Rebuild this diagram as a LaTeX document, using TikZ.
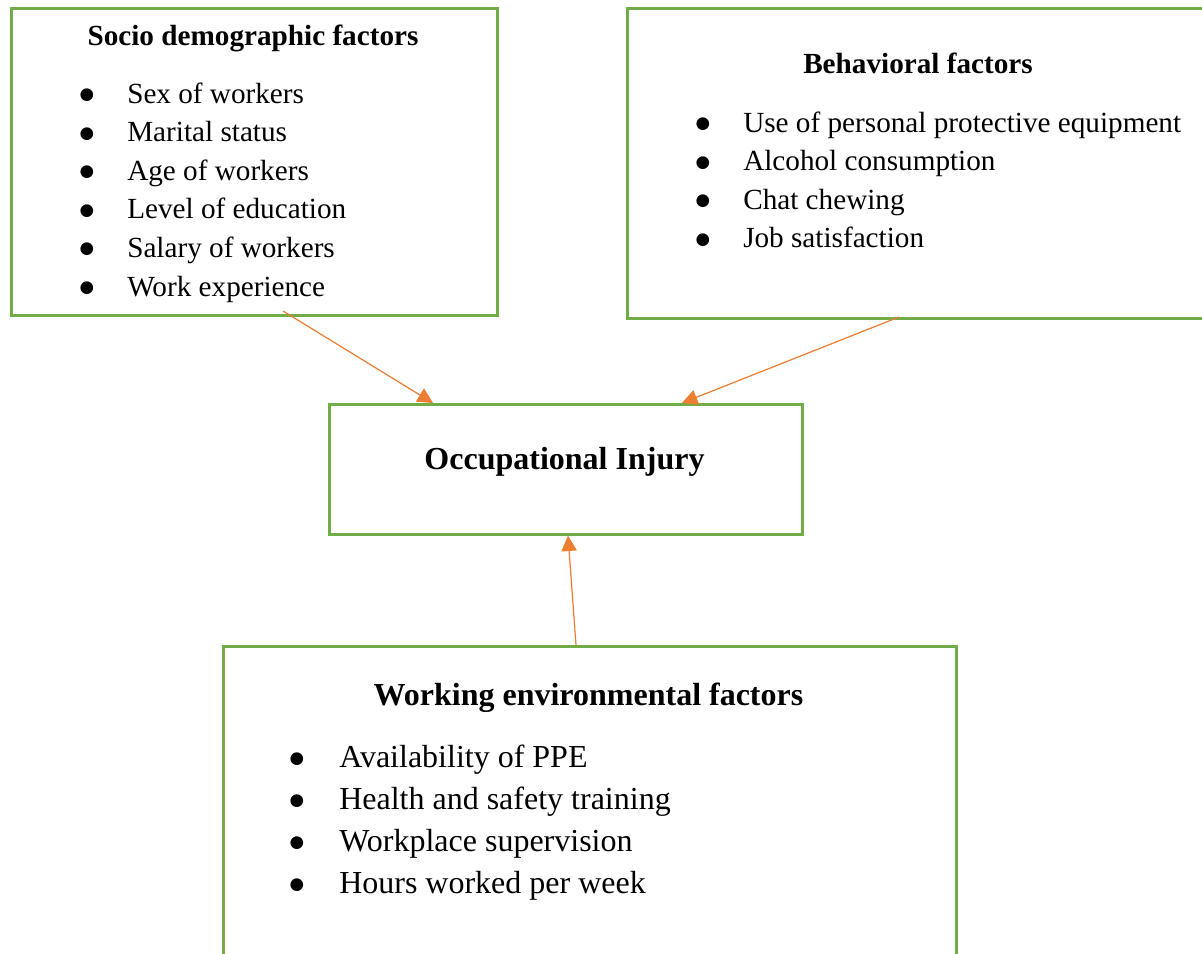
\documentclass[tikz,border=0pt]{standalone}
\usepackage{fontspec}
\setmainfont{Liberation Serif}
\newfontfamily\symfam{DejaVu Sans}
\usetikzlibrary{arrows.meta,calc}
\definecolor{boxgreen}{HTML}{70AD47}
\definecolor{arrorange}{HTML}{ED7D31}
\newcommand{\bulmark}{\smash{●}}
\begin{document}
\begin{tikzpicture}[x=0.75pt,y=-0.75pt,
  box/.style={draw=boxgreen, line width=2pt, rectangle, inner sep=0pt, anchor=north west},
  arr/.style={draw=arrorange, line width=0.9pt, -{Triangle[length=11.5pt,width=11.5pt]}, fill=arrorange},
  ttl/.style={font=\fontsize{21.9}{26}\selectfont\bfseries, anchor=base, inner sep=0pt},
  bigttl/.style={font=\fontsize{24}{29}\selectfont\bfseries, anchor=base, inner sep=0pt},
  itm/.style={font=\fontsize{21.9}{26}\selectfont, anchor=base west, inner sep=0pt},
  bigitm/.style={font=\fontsize{24}{29}\selectfont, anchor=base west, inner sep=0pt},
  bul/.style={font=\symfam\fontsize{12.5}{14}\selectfont, anchor=base, inner sep=0pt}]
\clip (0,0) rectangle (1202,953);
\fill[white] (0,0) rectangle (1202,953);

% boxes
\node[box, minimum width=364.5pt, minimum height=230.25pt] (socio) at (10,7) {};
\node[box, minimum width=438pt, minimum height=232.5pt] (behav) at (626,7) {};
\node[box, minimum width=354.75pt, minimum height=97.5pt] (occ) at (328,403) {};
\node[box, minimum width=549.75pt, minimum height=247.5pt] (work) at (222,645) {};

% socio demographic
\node[ttl] (socioT) at (253,45) {Socio demographic factors};
\node[bul] (sb1) at (87,99.5) {\bulmark};   \node[itm] (si1) at (127,103) {Sex of workers};
\node[bul] (sb2) at (87,138.1) {\bulmark}; \node[itm] (si2) at (127,141.6) {Marital status};
\node[bul] (sb3) at (87,176.7) {\bulmark}; \node[itm] (si3) at (127,180.2) {Age of workers};
\node[bul] (sb4) at (87,215.3) {\bulmark}; \node[itm] (si4) at (127,218.8) {Level of education};
\node[bul] (sb5) at (87,253.9) {\bulmark}; \node[itm] (si5) at (127,257.4) {Salary of workers};
\node[bul] (sb6) at (87,292.5) {\bulmark};   \node[itm] (si6) at (127,296) {Work experience};

% behavioral
\node[ttl] (behavT) at (918,73) {Behavioral factors};
\node[bul] (bb1) at (703,128.5) {\bulmark};   \node[itm] (bi1) at (743,132) {Use of personal protective equipment};
\node[bul] (bb2) at (703,167.1) {\bulmark}; \node[itm] (bi2) at (743,170.6) {Alcohol consumption};
\node[bul] (bb3) at (703,205.7) {\bulmark}; \node[itm] (bi3) at (743,209.2) {Chat chewing};
\node[bul] (bb4) at (703,244.3) {\bulmark}; \node[itm] (bi4) at (743,247.8) {Job satisfaction};

% occupational injury
\node[bigttl] (occT) at (564.5,469) {Occupational Injury};

% working environmental
\node[bigttl] (workT) at (588.5,705) {Working environmental factors};
\node[bul] (wb1) at (297,763) {\bulmark};   \node[bigitm] (wi1) at (339,767) {Availability of PPE};
\node[bul] (wb2) at (297,805.3) {\bulmark}; \node[bigitm] (wi2) at (339,809.3) {Health and safety training};
\node[bul] (wb3) at (297,847.6) {\bulmark}; \node[bigitm] (wi3) at (339,851.6) {Workplace supervision};
\node[bul] (wb4) at (297,889.9) {\bulmark}; \node[bigitm] (wi4) at (339,893.9) {Hours worked per week};

% connectors
\coordinate (s1) at (283,311);
\coordinate (s2) at (899,317);
\coordinate (s3) at (576,645);
\draw[arr] (s1) -- ($(occ.north west)+(105,0)$);
\draw[arr] (s2) -- ($(occ.north west)+(354,0)$);
\draw[arr] (s3) -- ($(occ.south west)+(240,0)$);
\end{tikzpicture}
\end{document}
